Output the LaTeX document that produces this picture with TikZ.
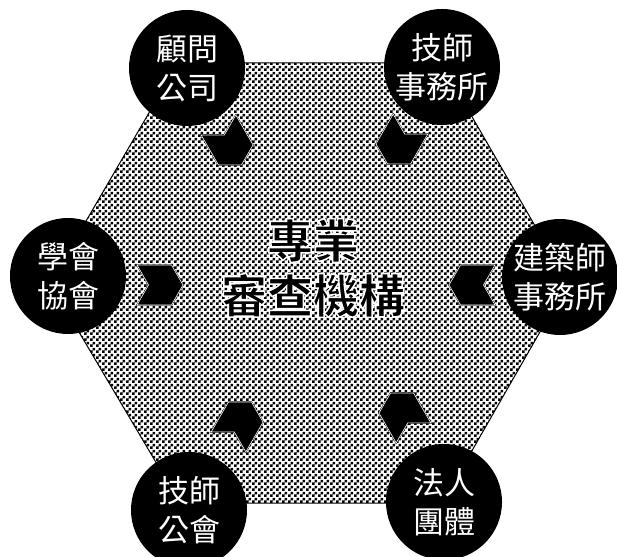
\documentclass[tikz,border=0pt]{standalone}
\usepackage{fontspec}
\usetikzlibrary{patterns}
\usetikzlibrary{shapes.symbols}
\newfontfamily\cjk{Noto Sans CJK TC}

\pgfdeclarepatternformonly{checkdots}{\pgfpointorigin}{\pgfqpoint{6pt}{6pt}}{\pgfqpoint{6pt}{6pt}}{%
\pgfpathrectangle{\pgfpointorigin}{\pgfqpoint{3pt}{3pt}}%
\pgfpathrectangle{\pgfqpoint{3pt}{3pt}}{\pgfqpoint{3pt}{3pt}}%
\pgfusepath{fill}}

% white rim round the black letters (stroke after fill)
\newcommand\rimtext[1]{\special{pdf:code 2 Tr 1 G 1.5 w}#1\special{pdf:code 0 Tr 0 G}}

\tikzset{
org/.style={circle, fill=black, minimum size=116pt, inner sep=0pt, text=white, align=center, font=\cjk\fontsize{31}{39}\selectfont},
chev/.style={signal, signal from=west, signal to=east, signal pointer angle=120, fill=black, draw=black, double=white, double distance=0.6pt, minimum width=46pt, minimum height=40pt, inner sep=0pt},
core/.style={align=center, font=\cjk\bfseries\fontsize{46}{55}\selectfont}
}

\begin{document}
\begin{tikzpicture} [x=1pt,y=1pt]
\useasboundingbox (0,0) rectangle (617,556);

\draw[line width=1pt, pattern=checkdots]
(50,273) -- (178,493) -- (441,493) -- (568,273) -- (442,53) -- (180,53) -- cycle;

\node[chev, rotate=-60] (a-gu) at (230,411) {};
\node[chev, rotate=-120] (a-ji) at (399,412) {};
\node[chev] (a-xue) at (160,271) {};
\node[chev, rotate=180] (a-jian) at (472,271) {};
\node[chev, rotate=60] (a-gong) at (240,134) {};
\node[chev, rotate=120] (a-fa) at (402,143) {};

\node[org] (gu) at (187,488) {顧問\\公司};
\node[org] (ji) at (442,489) {技師\\事務所};
\node[org] (xue) at (68,280) {學會\\協會};
\node[org] (jian) at (560,279) {建築師\\事務所};
\node[org] (gong) at (189,46) {技師\\公會};
\node[org] (fa) at (444,54) {法人\\團體};

\node[core] (center) at (313,288) {\rimtext{專業}\\\rimtext{審查機構}};

\end{tikzpicture}
\end{document}
